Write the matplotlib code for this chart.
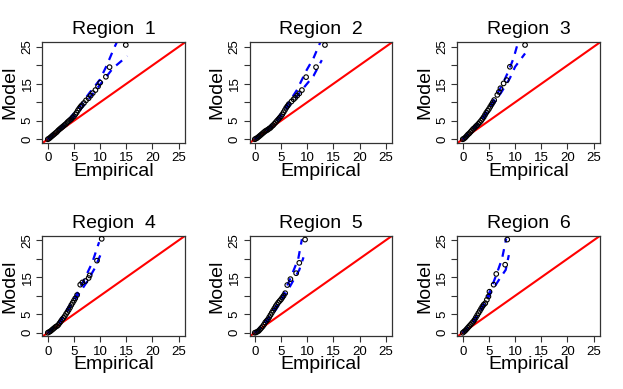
import matplotlib
matplotlib.use("Agg")
import matplotlib.pyplot as plt

plt.rcParams["font.family"] = ["Liberation Sans", "DejaVu Sans"]

# ── data (empirical vs model quantiles) ──
regions = ["Region  1", "Region  2", "Region  3",
           "Region  4", "Region  5", "Region  6"]

emp_1 = [0, 0.25, 0.5, 0.75, 1, 1.25, 1.5, 1.75, 2, 2.25, 2.5, 2.75, 3, 3.25,
         3.5, 3.75, 4, 4.25, 4.5, 4.75, 5, 5.25, 5.5, 5.75, 6, 6.25, 6.5,
         6.9, 7.3, 7.8, 8.2, 8.6, 9.1, 9.6, 10.0, 11.1, 11.8, 14.9]
mod_1 = [0, 0.2, 0.5, 0.8, 1.1, 1.4, 1.7, 2.0, 2.4, 2.7, 3.0, 3.3, 3.6, 3.9,
         4.2, 4.6, 4.9, 5.2, 5.5, 5.9, 6.2, 6.7, 7.2, 7.8, 8.3, 8.8, 9.2,
         9.8, 10.5, 11.1, 11.8, 12.5, 13.3, 14.3, 15.3, 16.9, 19.5, 25.5]

emp_2 = [0, 0.25, 0.5, 0.75, 1, 1.25, 1.5, 1.75, 2, 2.25, 2.5, 2.75, 3, 3.25,
         3.5, 3.75, 4, 4.25, 4.5, 4.75, 5, 5.25, 5.5, 5.75, 6, 6.25, 6.5,
         7.0, 7.4, 7.7, 8.1, 8.5, 9.0, 9.8, 11.7, 13.4]
mod_2 = [0, 0.2, 0.4, 0.7, 1.0, 1.3, 1.6, 1.9, 2.2, 2.4, 2.6, 2.9, 3.1, 3.5,
         3.8, 4.2, 4.6, 5.0, 5.4, 5.8, 6.2, 6.7, 7.3, 7.9, 8.5, 9.0, 9.5,
         10.2, 10.8, 11.2, 11.8, 12.4, 13.3, 16.8, 19.5, 25.5]

emp_3 = [0, 0.25, 0.5, 0.75, 1, 1.25, 1.5, 1.75, 2, 2.25, 2.5, 2.75, 3, 3.25,
         3.5, 3.75, 4, 4.25, 4.5, 4.75, 5, 5.25, 5.5, 5.75, 6,
         6.6, 6.9, 7.2, 7.8, 8.4, 9.0, 11.9]
mod_3 = [0, 0.2, 0.5, 0.9, 1.3, 1.6, 2.0, 2.4, 2.8, 3.1, 3.5, 3.8, 4.2, 4.6,
         5.0, 5.5, 6.0, 6.6, 7.2, 7.7, 8.2, 8.8, 9.4, 10.0, 10.6,
         12.0, 12.8, 13.8, 15.1, 16.0, 19.6, 25.5]

emp_4 = [0, 0.25, 0.5, 0.75, 1, 1.25, 1.5, 1.75, 2, 2.25, 2.5, 2.75, 3, 3.25,
         3.5, 3.75, 4, 4.25, 4.5, 4.75, 5, 5.25, 5.6,
         6.2, 6.6, 7.2, 7.8, 8.0, 9.4, 10.3]
mod_4 = [0, 0.2, 0.4, 0.7, 1.0, 1.3, 1.6, 1.8, 2.1, 2.6, 3.1, 3.6, 4.0, 4.5,
         5.1, 5.6, 6.2, 6.8, 7.5, 8.1, 8.7, 9.3, 10.2,
         13.0, 13.6, 14.0, 14.8, 15.5, 19.5, 25.4]

emp_5 = [0, 0.25, 0.5, 0.75, 1, 1.25, 1.5, 1.75, 2, 2.25, 2.5, 2.75, 3, 3.25,
         3.5, 3.75, 4, 4.25, 4.5, 4.75, 5, 5.25, 5.5, 5.8,
         6.2, 6.8, 7.9, 8.5, 9.6]
mod_5 = [0, 0.1, 0.3, 0.5, 0.9, 1.3, 1.7, 2.2, 2.8, 3.2, 3.6, 4.2, 4.8, 5.4,
         6.0, 6.6, 7.2, 7.7, 8.2, 8.6, 9.0, 9.5, 10.0, 10.7,
         12.9, 14.5, 16.1, 18.9, 25.2]

emp_6 = [0, 0.25, 0.5, 0.75, 1, 1.25, 1.5, 1.75, 2, 2.25, 2.5, 2.75, 3, 3.25,
         3.5, 3.75, 4, 4.3, 4.6, 4.9,
         5.1, 5.9, 6.4, 8.1, 8.5]
mod_6 = [0, 0.3, 0.6, 1.0, 1.4, 1.8, 2.2, 2.6, 3.0, 3.5, 4.1, 4.7, 5.3, 5.9,
         6.5, 7.1, 7.6, 8.0, 8.9, 9.8,
         11.1, 13.0, 15.9, 18.4, 25.2]

# envelopes (dashed blue), as (empirical, model)
up_x = [[0, 2, 4, 6, 8, 10, 11.3, 12.5, 13.2],
        [0, 2, 4, 6, 8, 9.9, 11.2, 12.5],
        [0, 2, 4, 6, 7.5, 8.7, 9.7, 10.6],
        [0, 2, 4, 5.6, 7, 8.5, 9.8],
        [0, 2, 4, 5.5, 6.8, 8.3, 9.0],
        [0, 2, 4, 5.3, 6.5, 7.5, 8.3]]
up_y = [[0, 2.6, 5.3, 8.8, 12.6, 16.2, 20.1, 24.1, 26.3],
        [0, 2.3, 5.0, 8.9, 13.2, 18.7, 21.9, 26.2],
        [0, 2.9, 6.3, 10.8, 14.6, 18.3, 21.9, 26.4],
        [0, 2.6, 7.0, 10.6, 14.5, 19.0, 24.5],
        [0, 2.9, 7.0, 10.5, 14.7, 20.0, 25.3],
        [0, 3.1, 7.8, 11.5, 16.0, 20.0, 25.5]]
lo_x = [[0, 2, 4, 6, 8, 10, 12.5, 15.2],
        [0, 2, 4, 6, 8, 9.5, 11.2, 12.8],
        [0, 2, 4, 6, 7.5, 9, 10, 11.9],
        [0, 2, 4, 5.6, 7.5, 9, 10.2],
        [0, 2, 4, 5.8, 7.3, 8.5, 9.3],
        [0, 2, 4, 5.5, 7, 8.2, 8.8]]
lo_y = [[0, 2.3, 4.6, 7.6, 11.2, 14.8, 19.3, 22.5],
        [0, 2.1, 4.5, 8.0, 11.6, 14.2, 17.1, 21.4],
        [0, 2.6, 5.7, 9.8, 13.0, 16.5, 19.6, 23.2],
        [0, 2.2, 6.4, 9.8, 13.8, 17.5, 21.5],
        [0, 2.4, 6.2, 10.2, 14.0, 17.0, 20.4],
        [0, 2.6, 7.0, 11.2, 14.5, 17.0, 21.0]]

emp_all = [emp_1, emp_2, emp_3, emp_4, emp_5, emp_6]
mod_all = [mod_1, mod_2, mod_3, mod_4, mod_5, mod_6]

ticks = [0, 5, 10, 15, 20, 25]
ytick_labels = ["0", "5", "", "15", "", "25"]
lims = (-1.01, 26.3)

# ── figure ────────────────────────────────────────────────────
fig = plt.figure(figsize=(6.23, 3.89), dpi=100)
lefts = [0.0682, 0.4005, 0.7343]
bottoms = [0.6324, 0.135]
w, h = 0.2295, 0.2596

for i in range(6):
    ax = fig.add_axes([lefts[i % 3], bottoms[i // 3], w, h])
    ax.plot(lims, lims, color="#FF0000", lw=1.5, zorder=1)
    ax.plot(up_x[i], up_y[i], color="#0000FF", lw=1.6, ls=(0, (3.5, 3)), zorder=2)
    ax.plot(lo_x[i], lo_y[i], color="#0000FF", lw=1.6, ls=(0, (3.5, 3)), zorder=2)
    ax.scatter(emp_all[i], mod_all[i], s=11, facecolors="none",
               edgecolors="black", linewidths=0.8, zorder=3)
    ax.set_xlim(lims)
    ax.set_ylim(lims)
    ax.set_xticks(ticks)
    ax.set_yticks(ticks)
    ax.set_yticklabels(ytick_labels, rotation=90, va="center")
    ax.tick_params(labelsize=9.5, length=4.5, width=0.8, pad=2, color="#333333")
    for sp in ax.spines.values():
        sp.set_color("#333333")
        sp.set_linewidth(0.9)
    ax.set_title(regions[i], fontsize=14, pad=5.5)
    ax.set_xlabel("Empirical", fontsize=14, labelpad=-1)
    ax.set_ylabel("Model", fontsize=14, labelpad=2)

plt.savefig("out.png", dpi=100)
plt.close()
